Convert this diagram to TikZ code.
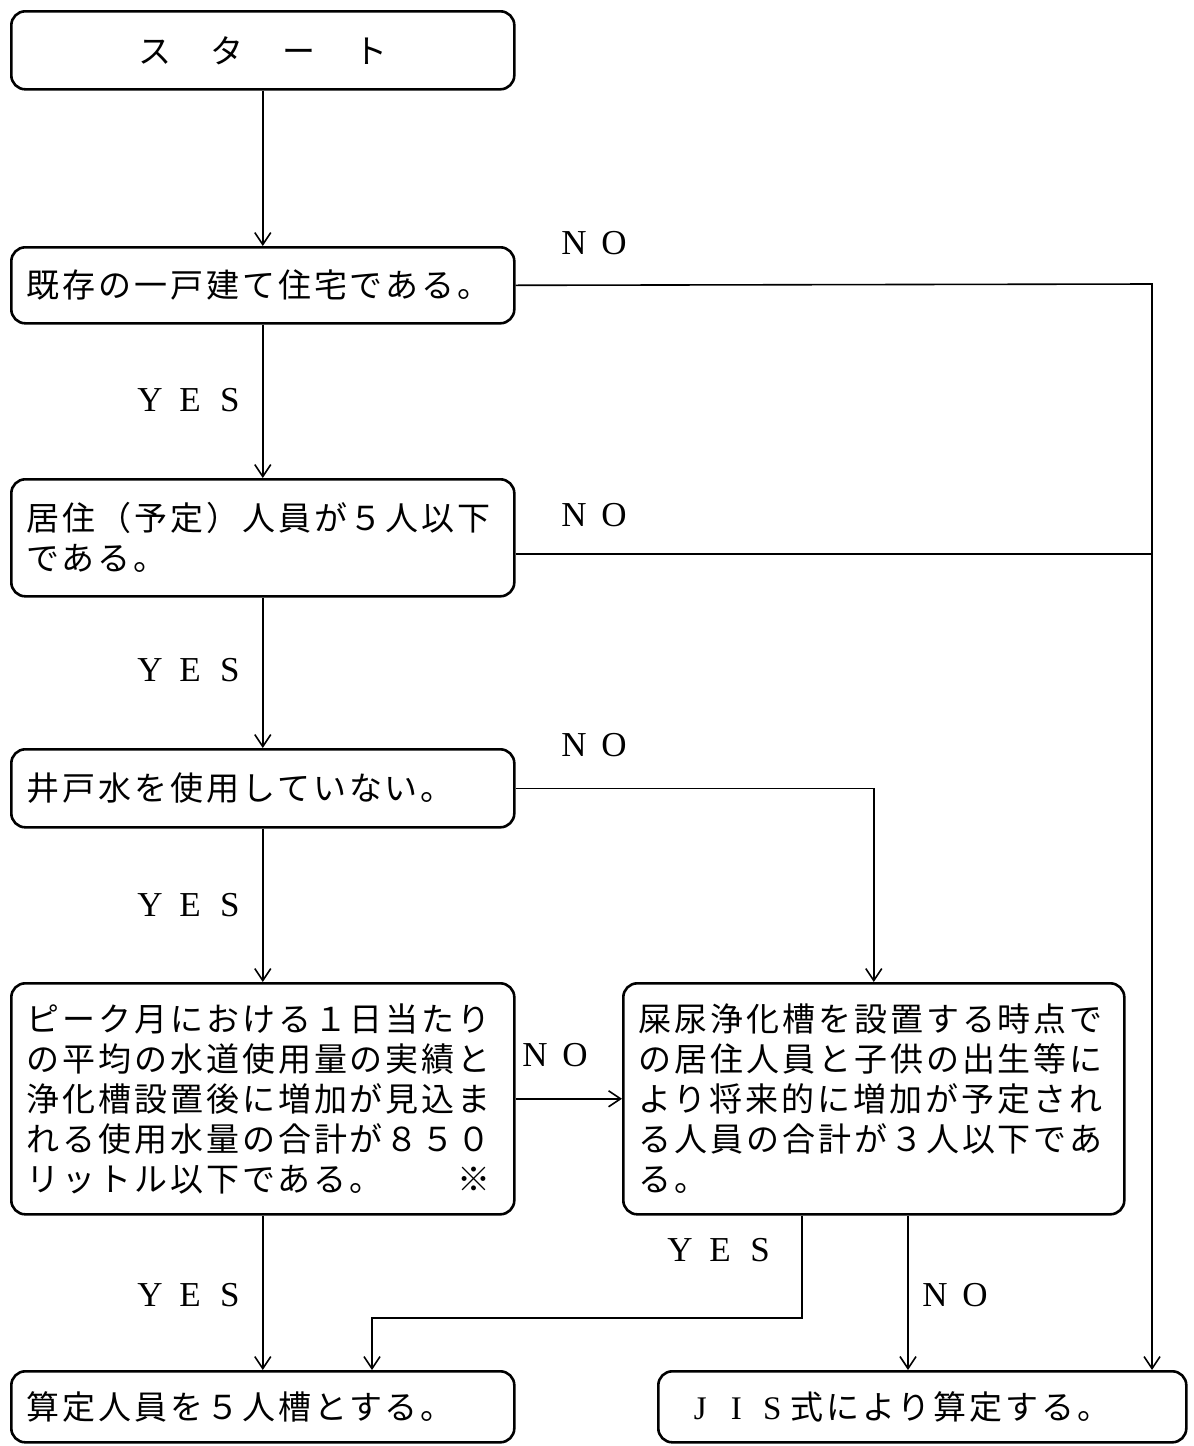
\documentclass[tikz,border=0pt]{standalone}
\usepackage{fontspec}
\setmainfont{Liberation Serif}
\newfontfamily\jp[LetterSpace=9]{Noto Sans CJK JP}
\usetikzlibrary{arrows.meta}
\newcommand\lt[1]{\makebox[40pt]{#1}}
\newcommand\cl[1]{\makebox[36pt]{\rmfamily #1}}
\begin{document}
\begin{tikzpicture}[x=1pt,y=-1pt,
  box/.style={draw, line width=2.6pt, rounded corners=14pt, anchor=north west,
    inner ysep=0pt, inner xsep=15pt, text width=473pt, align=left,
    font=\jp\fontsize{33}{40}\selectfont},
  conn/.style={line width=1.6pt, -{Straight Barb[length=12pt,width=16pt,line width=1.6pt]}},
  plain/.style={line width=1.6pt},
  lab/.style={font=\fontsize{35}{40}\selectfont, inner sep=0pt}]
\useasboundingbox[fill=white] (0,0) rectangle (1194,1446);

% boxes
\node[box, minimum height=78pt, align=center] (start) at (10,10) {ス　タ　ー　ト};
\node[box, minimum height=76pt] (n2) at (10,246) {既存の一戸建て住宅である。};
\node[box, minimum height=117pt] (n3) at (10,478) {居住（予定）人員が５人以下\\である。};
\node[box, minimum height=78pt] (n4) at (10,748) {井戸水を使用していない。};
\node[box, minimum height=231pt] (n5) at (10,982) {ピーク月における１日当たり\\の平均の水道使用量の実績と\\浄化槽設置後に増加が見込ま\\れる使用水量の合計が８５０\\リットル以下である。　　※};
\node[box, minimum height=231pt, text width=471pt, inner xsep=15pt] (n6) at (622,982) {屎尿浄化槽を設置する時点で\\の居住人員と子供の出生等に\\より将来的に増加が予定され\\る人員の合計が３人以下であ\\る。};
\node[box, minimum height=71pt] (n7) at (10,1370) {算定人員を５人槽とする。};
\node[box, minimum height=71pt, text width=480pt, inner xsep=24pt] (n8) at (657,1370) {\cl{J}\cl{I}\cl{S}式により算定する。};

% helper coordinates
\coordinate (corner) at (1152,284);
\coordinate (ybend) at (0,1318);
\coordinate (yesout) at ([xshift=180pt]n6.south west);
\coordinate (yesin) at ([xshift=362pt]n7.north west);
\coordinate (noout) at ([xshift=286pt]n6.south west);
\coordinate (jisin) at ([xshift=495pt]n8.north west);
\coordinate (n3out) at ([yshift=-16pt]n3.east);

% connectors
\draw[conn] (start.south) -- (n2.north);
\draw[conn] (n2.south) -- (n3.north);
\draw[conn] (n3.south) -- (n4.north);
\draw[conn] (n4.south) -- (n5.north);
\draw[conn] (n5.south) -- (n7.north);
\draw[conn] (n2.east) -- (corner) -- (jisin);
\draw[plain] (n3out) -- (n3out -| corner);
\draw[conn] (n4.east) -| (n6.north);
\draw[conn] (n5.east) -- (n6.west);
\draw[conn] (yesout) -- (yesout |- ybend) -| (yesin);
\draw[conn] (noout) -- (noout |- jisin);

% labels
\node[lab] (l1) at (594,243) {\lt{N}\lt{O}};
\node[lab] (l2) at (190,400) {\lt{Y}\lt{E}\lt{S}};
\node[lab] (l3) at (594,515) {\lt{N}\lt{O}};
\node[lab] (l4) at (190,670) {\lt{Y}\lt{E}\lt{S}};
\node[lab] (l5) at (594,745) {\lt{N}\lt{O}};
\node[lab] (l6) at (190,905) {\lt{Y}\lt{E}\lt{S}};
\node[lab] (l7) at (555,1055) {\lt{N}\lt{O}};
\node[lab] (l8) at (190,1295) {\lt{Y}\lt{E}\lt{S}};
\node[lab] (l9) at (720,1250) {\lt{Y}\lt{E}\lt{S}};
\node[lab] (l10) at (955,1295) {\lt{N}\lt{O}};
\end{tikzpicture}
\end{document}
